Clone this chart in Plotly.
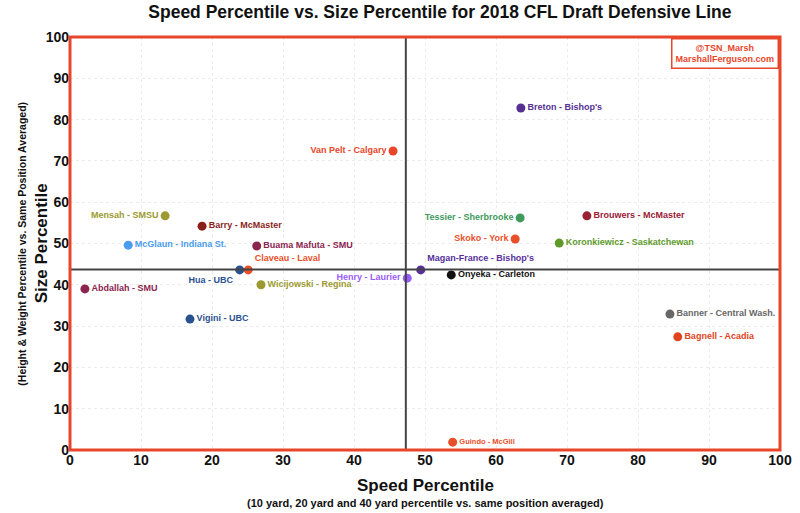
import plotly.graph_objects as go

# player labels, speed percentile (x), size percentile (y)
players = [
    "Breton - Bishop's", "Van Pelt - Calgary", "Mensah - SMSU", "Barry - McMaster",
    "McGlaun - Indiana St.", "Buama Mafuta - SMU", "Claveau - Laval", "Hua - UBC",
    "Wicijowski - Regina", "Henry - Laurier", "Abdallah - SMU", "Vigini - UBC",
    "Magan-France - Bishop's", "Onyeka - Carleton", "Tessier - Sherbrooke",
    "Skoko - York", "Koronkiewicz - Saskatchewan", "Brouwers - McMaster",
    "Banner - Central Wash.", "Bagnell - Acadia", "Guindo - McGill",
]
speed = [63.5, 45.5, 13.4, 18.6, 8.2, 26.3, 25.1, 23.9, 26.9, 47.5, 2.1, 16.9,
         49.4, 53.7, 63.4, 62.7, 68.9, 72.8, 84.5, 85.6, 53.9]
size = [82.8, 72.4, 56.7, 54.2, 49.6, 49.4, 43.6, 43.6, 40.0, 41.6, 39.0, 31.7,
        43.6, 42.4, 56.2, 51.1, 50.1, 56.7, 32.9, 27.4, 1.9]

avg_speed = 47.3
avg_size = 43.7

colors = ["#562f93", "#e8462a", "#9b9a30", "#8a1f1a", "#4a9cf0", "#8a2550",
          "#e8502a", "#2b5290", "#9b9a30", "#9a5cff", "#8a2550", "#2b5290",
          "#562f9a", "#111111", "#3f9a5c", "#e8502a", "#5e9a2a", "#9a2035",
          "#666666", "#e0441e", "#e8502a"]
text_pos = ["middle right", "middle left", "middle left", "middle right",
            "middle right", "middle right", "top right", "bottom left",
            "middle right", "middle left", "middle right", "middle right",
            "top right", "middle right", "middle left", "middle left",
            "middle right", "middle right", "middle right", "middle right",
            "middle right"]
text_size = [9] * 20 + [7.5]

RED = "#e8462a"
NARROW = "Liberation Sans Narrow, Liberation Sans"

fig = go.Figure()
fig.add_trace(go.Scatter(
    x=speed, y=size, mode="markers+text",
    text=players, textposition=text_pos,
    textfont=dict(family="Liberation Sans", size=text_size, color=colors, weight="bold"),
    marker=dict(size=9, color=colors),
    cliponaxis=False, hoverinfo="text", showlegend=False,
))

fig.add_vline(x=avg_speed, line=dict(color="#444444", width=2))
fig.add_hline(y=avg_size, line=dict(color="#444444", width=2))

# orange frame round the plot
fig.add_shape(type="rect", xref="paper", yref="paper", x0=0, y0=0, x1=1, y1=1,
              line=dict(color=RED, width=3), layer="above")

# credit box top right
fig.add_annotation(xref="paper", yref="paper", x=0.998, y=0.997,
                   xanchor="right", yanchor="top", align="center",
                   text="@TSN_Marsh<br>MarshallFerguson.com", showarrow=False,
                   font=dict(family="Liberation Sans", size=9, color=RED, weight="bold"),
                   bordercolor=RED, borderwidth=1.5, borderpad=3, bgcolor="white")

fig.add_annotation(xref="paper", yref="paper", x=-0.056, y=0.5, textangle=-90,
                   text="Size Percentile", showarrow=False,
                   font=dict(family=NARROW, size=17, color="#111", weight="bold"))
fig.add_annotation(xref="paper", yref="paper", x=-0.08, y=0.5, textangle=-90,
                   text="(Height & Weight Percentile vs. Same Position Averaged)",
                   showarrow=False,
                   font=dict(family=NARROW, size=10.5, color="#111", weight="bold"))
fig.add_annotation(xref="paper", yref="paper", x=0.5, y=-0.058, yanchor="top",
                   text="Speed Percentile", showarrow=False,
                   font=dict(family=NARROW, size=17, color="#111", weight="bold"))
fig.add_annotation(xref="paper", yref="paper", x=0.5, y=-0.11, yanchor="top",
                   text="(10 yard, 20 yard and 40 yard percentile vs. same position averaged)",
                   showarrow=False,
                   font=dict(family=NARROW, size=11, color="#111", weight="bold"))

tick_font = dict(family=NARROW, size=14, color="#111", weight="bold")
fig.update_xaxes(range=[0, 100], dtick=10, showgrid=True, gridcolor="#ececec",
                 griddash="dot", zeroline=False, tickfont=tick_font, ticks="",
                 automargin=False)
fig.update_yaxes(range=[0, 100], dtick=10, showgrid=True, gridcolor="#ececec",
                 griddash="dot", zeroline=False, tickfont=tick_font, ticks="",
                 automargin=False)

fig.update_layout(
    width=800, height=513,
    margin=dict(l=70, r=20, t=37, b=63),
    paper_bgcolor="white", plot_bgcolor="white",
    title=dict(text="Speed Percentile vs. Size Percentile for 2018 CFL Draft Defensive Line",
               xref="paper", x=0.521, xanchor="center", y=0.977, yanchor="middle",
               font=dict(family="Liberation Sans", size=17.5, color="#111", weight="bold")),
)

# drop the page's default body margin so the figure sits at the window's corner
fig.write_html("out.html", config={"displayModeBar": False},
               post_script="document.body.style.margin='0';"
                           "document.body.style.overflow='hidden';")
